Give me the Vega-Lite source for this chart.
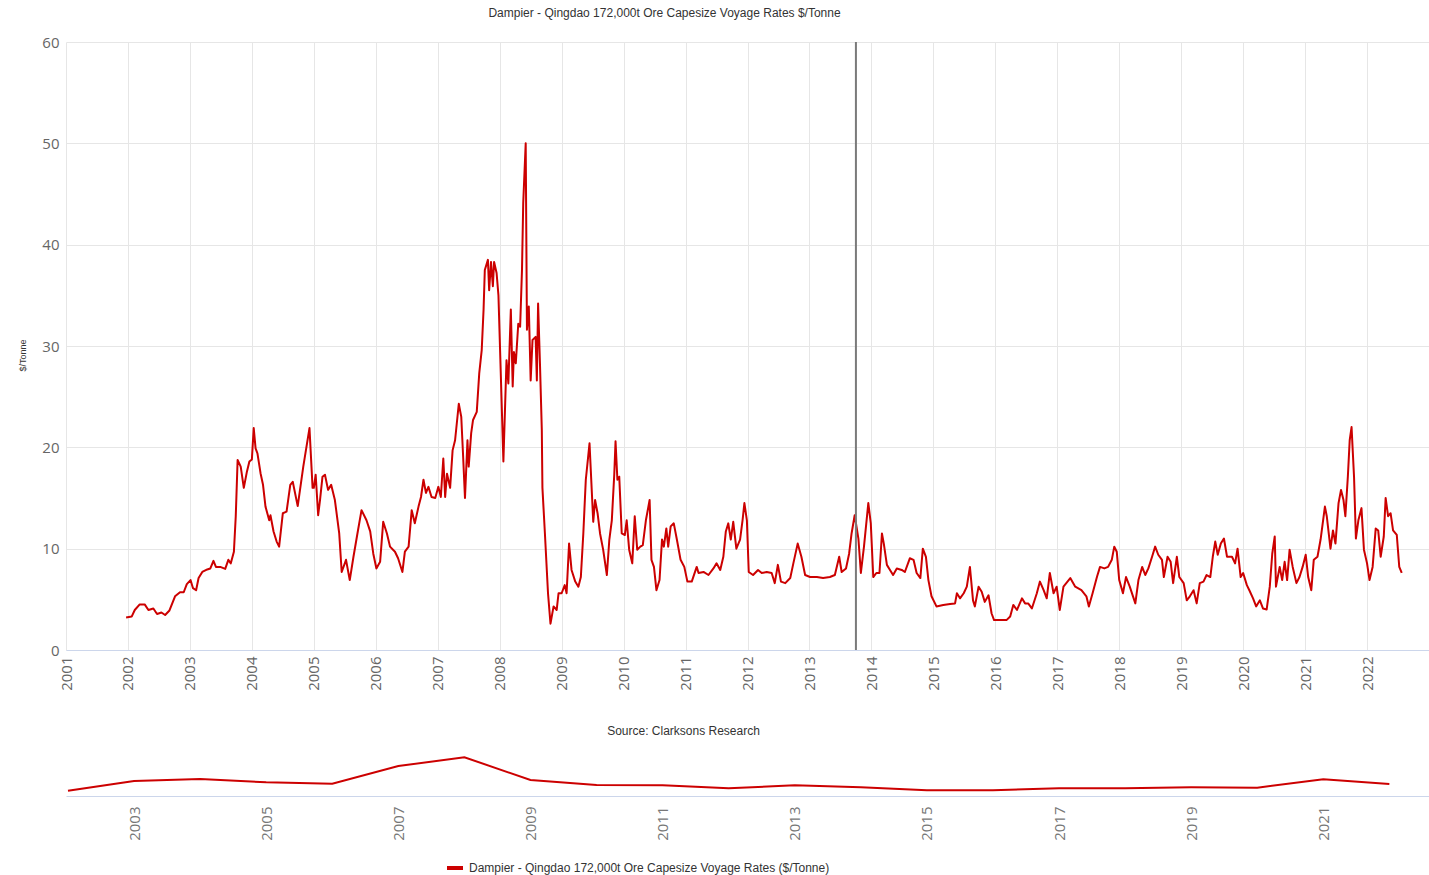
{
"$schema": "https://vega.github.io/schema/vega-lite/v6.json",
"background": "white",
"padding": {"left": 18, "top": 7, "right": 0, "bottom": 0},
"bounds": "flush",
"spacing": 102,
"config": {"view": {"stroke": null}, "font": "Liberation Sans"},
"datasets": {
"rates": [
{"t":2001.97,"v":3.2},{"t":2002.06,"v":3.3},{"t":2002.11,"v":3.95},{"t":2002.19,"v":4.5},{"t":2002.27,"v":4.5},{"t":2002.33,"v":3.95},{"t":2002.41,"v":4.1},{"t":2002.47,"v":3.55},{"t":2002.54,"v":3.7},{"t":2002.6,"v":3.45},{"t":2002.67,"v":3.9},{"t":2002.76,"v":5.3},{"t":2002.84,"v":5.7},{"t":2002.9,"v":5.7},{"t":2002.95,"v":6.5},
{"t":2003.01,"v":6.9},{"t":2003.05,"v":6.1},{"t":2003.1,"v":5.9},{"t":2003.14,"v":7.1},{"t":2003.2,"v":7.7},{"t":2003.28,"v":7.95},{"t":2003.33,"v":8.05},{"t":2003.38,"v":8.8},{"t":2003.42,"v":8.2},{"t":2003.49,"v":8.2},{"t":2003.57,"v":8.0},{"t":2003.62,"v":8.9},{"t":2003.66,"v":8.55},{"t":2003.71,"v":9.7},{"t":2003.74,"v":13.2},{"t":2003.77,"v":18.75},{"t":2003.82,"v":18.1},{"t":2003.87,"v":16.0},{"t":2003.92,"v":17.6},{"t":2003.96,"v":18.6},
{"t":2004.0,"v":18.8},{"t":2004.03,"v":21.9},{"t":2004.06,"v":19.9},{"t":2004.09,"v":19.4},{"t":2004.14,"v":17.45},{"t":2004.18,"v":16.3},{"t":2004.22,"v":14.15},{"t":2004.28,"v":12.8},{"t":2004.3,"v":13.3},{"t":2004.35,"v":11.7},{"t":2004.4,"v":10.7},{"t":2004.44,"v":10.2},{"t":2004.5,"v":13.5},{"t":2004.56,"v":13.65},{"t":2004.62,"v":16.3},{"t":2004.66,"v":16.6},{"t":2004.74,"v":14.2},{"t":2004.83,"v":18.1},{"t":2004.93,"v":21.9},{"t":2004.98,"v":16.0},
{"t":2005.0,"v":16.0},{"t":2005.03,"v":17.3},{"t":2005.07,"v":13.3},{"t":2005.1,"v":14.8},{"t":2005.14,"v":17.1},{"t":2005.18,"v":17.3},{"t":2005.23,"v":15.8},{"t":2005.28,"v":16.3},{"t":2005.34,"v":14.8},{"t":2005.41,"v":11.5},{"t":2005.45,"v":7.7},{"t":2005.52,"v":8.9},{"t":2005.58,"v":6.9},{"t":2005.64,"v":9.2},{"t":2005.7,"v":11.35},{"t":2005.77,"v":13.8},{"t":2005.85,"v":12.8},{"t":2005.91,"v":11.7},{"t":2005.96,"v":9.5},
{"t":2006.01,"v":8.05},{"t":2006.07,"v":8.7},{"t":2006.12,"v":12.65},{"t":2006.18,"v":11.5},{"t":2006.23,"v":10.2},{"t":2006.31,"v":9.7},{"t":2006.36,"v":9.05},{"t":2006.43,"v":7.7},{"t":2006.47,"v":9.7},{"t":2006.53,"v":10.2},{"t":2006.58,"v":13.8},{"t":2006.63,"v":12.5},{"t":2006.69,"v":14.15},{"t":2006.73,"v":15.1},{"t":2006.77,"v":16.8},{"t":2006.81,"v":15.5},{"t":2006.85,"v":16.1},{"t":2006.9,"v":15.1},{"t":2006.96,"v":15.0},
{"t":2007.01,"v":16.1},{"t":2007.05,"v":15.1},{"t":2007.09,"v":18.9},{"t":2007.12,"v":15.1},{"t":2007.15,"v":17.4},{"t":2007.2,"v":16.0},{"t":2007.24,"v":19.7},{"t":2007.28,"v":20.7},{"t":2007.31,"v":22.5},{"t":2007.34,"v":24.3},{"t":2007.38,"v":23.0},{"t":2007.41,"v":19.1},{"t":2007.44,"v":15.0},{"t":2007.48,"v":20.7},{"t":2007.5,"v":18.1},{"t":2007.54,"v":21.4},{"t":2007.57,"v":22.7},{"t":2007.63,"v":23.5},{"t":2007.67,"v":27.3},{"t":2007.71,"v":29.6},{"t":2007.74,"v":33.6},{"t":2007.76,"v":37.5},{"t":2007.81,"v":38.5},{"t":2007.83,"v":35.5},{"t":2007.86,"v":38.3},{"t":2007.89,"v":35.9},{"t":2007.91,"v":38.3},{"t":2007.95,"v":37.2},{"t":2007.98,"v":35.0},
{"t":2008.06,"v":18.6},{"t":2008.11,"v":28.6},{"t":2008.14,"v":26.3},{"t":2008.18,"v":33.6},{"t":2008.21,"v":26.0},{"t":2008.23,"v":29.4},{"t":2008.26,"v":28.3},{"t":2008.3,"v":32.2},{"t":2008.33,"v":31.9},{"t":2008.36,"v":37.5},{"t":2008.38,"v":44.1},{"t":2008.42,"v":50.0},{"t":2008.44,"v":31.6},{"t":2008.47,"v":33.9},{"t":2008.5,"v":26.6},{"t":2008.53,"v":30.6},{"t":2008.58,"v":30.9},{"t":2008.6,"v":26.6},{"t":2008.62,"v":34.2},{"t":2008.65,"v":28.3},{"t":2008.68,"v":21.7},{"t":2008.69,"v":16.0},{"t":2008.73,"v":11.5},{"t":2008.78,"v":5.6},{"t":2008.82,"v":2.6},{"t":2008.87,"v":4.3},{"t":2008.92,"v":3.95},{"t":2008.95,"v":5.6},
{"t":2009.0,"v":5.6},{"t":2009.05,"v":6.4},{"t":2009.08,"v":5.6},{"t":2009.12,"v":10.5},{"t":2009.16,"v":7.9},{"t":2009.22,"v":6.75},{"t":2009.27,"v":6.25},{"t":2009.31,"v":7.2},{"t":2009.35,"v":11.5},{"t":2009.39,"v":16.8},{"t":2009.45,"v":20.4},{"t":2009.51,"v":12.65},{"t":2009.54,"v":14.8},{"t":2009.58,"v":13.5},{"t":2009.62,"v":11.5},{"t":2009.67,"v":9.9},{"t":2009.73,"v":7.4},{"t":2009.77,"v":10.9},{"t":2009.81,"v":12.8},{"t":2009.85,"v":17.4},{"t":2009.87,"v":20.6},{"t":2009.9,"v":16.8},{"t":2009.93,"v":17.1},{"t":2009.97,"v":11.5},
{"t":2010.02,"v":11.35},{"t":2010.05,"v":12.8},{"t":2010.09,"v":9.9},{"t":2010.14,"v":8.55},{"t":2010.18,"v":13.2},{"t":2010.22,"v":9.9},{"t":2010.27,"v":10.2},{"t":2010.31,"v":10.35},{"t":2010.36,"v":12.8},{"t":2010.42,"v":14.8},{"t":2010.45,"v":8.9},{"t":2010.49,"v":8.2},{"t":2010.53,"v":5.9},{"t":2010.58,"v":6.9},{"t":2010.62,"v":10.9},{"t":2010.65,"v":10.2},{"t":2010.69,"v":12.0},{"t":2010.72,"v":10.2},{"t":2010.76,"v":12.2},{"t":2010.81,"v":12.5},{"t":2010.86,"v":10.9},{"t":2010.92,"v":8.9},{"t":2010.98,"v":8.2},
{"t":2011.03,"v":6.75},{"t":2011.1,"v":6.75},{"t":2011.18,"v":8.2},{"t":2011.21,"v":7.6},{"t":2011.29,"v":7.7},{"t":2011.37,"v":7.4},{"t":2011.45,"v":8.05},{"t":2011.5,"v":8.55},{"t":2011.56,"v":7.9},{"t":2011.61,"v":9.2},{"t":2011.65,"v":11.7},{"t":2011.69,"v":12.5},{"t":2011.73,"v":10.9},{"t":2011.77,"v":12.65},{"t":2011.82,"v":10.0},{"t":2011.88,"v":10.9},{"t":2011.92,"v":12.8},{"t":2011.95,"v":14.5},{"t":2011.99,"v":12.8},
{"t":2012.02,"v":7.7},{"t":2012.09,"v":7.4},{"t":2012.17,"v":7.9},{"t":2012.23,"v":7.6},{"t":2012.31,"v":7.7},{"t":2012.39,"v":7.6},{"t":2012.44,"v":6.6},{"t":2012.49,"v":8.4},{"t":2012.54,"v":6.75},{"t":2012.61,"v":6.6},{"t":2012.69,"v":7.1},{"t":2012.74,"v":8.55},{"t":2012.81,"v":10.5},{"t":2012.87,"v":9.2},{"t":2012.93,"v":7.4},
{"t":2013.01,"v":7.2},{"t":2013.12,"v":7.2},{"t":2013.22,"v":7.1},{"t":2013.33,"v":7.2},{"t":2013.41,"v":7.4},{"t":2013.48,"v":9.2},{"t":2013.52,"v":7.7},{"t":2013.59,"v":8.05},{"t":2013.64,"v":9.5},{"t":2013.68,"v":11.5},{"t":2013.73,"v":13.3},{"t":2013.79,"v":11.0},{"t":2013.83,"v":7.6},{"t":2013.88,"v":10.2},{"t":2013.95,"v":14.5},{"t":2013.99,"v":12.5},
{"t":2014.03,"v":7.2},{"t":2014.08,"v":7.6},{"t":2014.13,"v":7.6},{"t":2014.17,"v":11.5},{"t":2014.2,"v":10.5},{"t":2014.25,"v":8.4},{"t":2014.3,"v":7.9},{"t":2014.35,"v":7.4},{"t":2014.41,"v":8.05},{"t":2014.49,"v":7.9},{"t":2014.54,"v":7.7},{"t":2014.62,"v":9.05},{"t":2014.68,"v":8.9},{"t":2014.73,"v":7.6},{"t":2014.79,"v":7.1},{"t":2014.83,"v":10.0},{"t":2014.88,"v":9.2},{"t":2014.92,"v":6.9},{"t":2014.97,"v":5.3},
{"t":2015.05,"v":4.3},{"t":2015.16,"v":4.45},{"t":2015.27,"v":4.55},{"t":2015.35,"v":4.6},{"t":2015.38,"v":5.6},{"t":2015.43,"v":5.1},{"t":2015.49,"v":5.6},{"t":2015.54,"v":6.25},{"t":2015.59,"v":8.2},{"t":2015.64,"v":4.9},{"t":2015.67,"v":4.3},{"t":2015.73,"v":6.25},{"t":2015.78,"v":5.75},{"t":2015.83,"v":4.75},{"t":2015.89,"v":5.4},{"t":2015.94,"v":3.6},{"t":2015.98,"v":2.95},
{"t":2016.08,"v":2.95},{"t":2016.18,"v":2.95},{"t":2016.24,"v":3.3},{"t":2016.29,"v":4.45},{"t":2016.35,"v":3.95},{"t":2016.43,"v":5.1},{"t":2016.48,"v":4.6},{"t":2016.53,"v":4.6},{"t":2016.59,"v":4.1},{"t":2016.67,"v":5.6},{"t":2016.72,"v":6.75},{"t":2016.78,"v":5.9},{"t":2016.83,"v":5.1},{"t":2016.88,"v":7.6},{"t":2016.94,"v":5.6},{"t":2016.99,"v":6.25},
{"t":2017.04,"v":3.95},{"t":2017.1,"v":6.25},{"t":2017.21,"v":7.1},{"t":2017.29,"v":6.25},{"t":2017.39,"v":5.9},{"t":2017.47,"v":5.3},{"t":2017.51,"v":4.3},{"t":2017.57,"v":5.6},{"t":2017.64,"v":7.2},{"t":2017.69,"v":8.2},{"t":2017.76,"v":8.05},{"t":2017.82,"v":8.2},{"t":2017.88,"v":8.9},{"t":2017.92,"v":10.2},{"t":2017.96,"v":9.7},
{"t":2018.0,"v":6.9},{"t":2018.06,"v":5.6},{"t":2018.11,"v":7.2},{"t":2018.17,"v":6.25},{"t":2018.26,"v":4.6},{"t":2018.31,"v":6.9},{"t":2018.37,"v":8.2},{"t":2018.42,"v":7.4},{"t":2018.47,"v":8.05},{"t":2018.53,"v":9.2},{"t":2018.58,"v":10.2},{"t":2018.63,"v":9.4},{"t":2018.69,"v":8.9},{"t":2018.72,"v":7.2},{"t":2018.78,"v":9.2},{"t":2018.83,"v":8.7},{"t":2018.87,"v":6.6},{"t":2018.93,"v":9.2},{"t":2018.97,"v":7.2},
{"t":2019.04,"v":6.6},{"t":2019.09,"v":4.9},{"t":2019.14,"v":5.3},{"t":2019.2,"v":5.9},{"t":2019.25,"v":4.6},{"t":2019.3,"v":6.6},{"t":2019.36,"v":6.75},{"t":2019.41,"v":7.4},{"t":2019.47,"v":7.2},{"t":2019.51,"v":9.2},{"t":2019.55,"v":10.7},{"t":2019.59,"v":9.4},{"t":2019.64,"v":10.5},{"t":2019.69,"v":11.0},{"t":2019.74,"v":9.2},{"t":2019.82,"v":9.2},{"t":2019.87,"v":8.55},{"t":2019.91,"v":10.0},{"t":2019.96,"v":7.2},
{"t":2020.0,"v":7.6},{"t":2020.06,"v":6.4},{"t":2020.1,"v":5.9},{"t":2020.16,"v":5.1},{"t":2020.21,"v":4.3},{"t":2020.27,"v":4.9},{"t":2020.32,"v":4.1},{"t":2020.38,"v":4.0},{"t":2020.43,"v":6.25},{"t":2020.47,"v":9.5},{"t":2020.51,"v":11.2},{"t":2020.53,"v":6.25},{"t":2020.59,"v":8.2},{"t":2020.63,"v":6.9},{"t":2020.67,"v":8.7},{"t":2020.71,"v":6.9},{"t":2020.75,"v":9.9},{"t":2020.8,"v":8.2},{"t":2020.86,"v":6.6},{"t":2020.91,"v":7.2},{"t":2020.96,"v":8.2},
{"t":2021.01,"v":9.4},{"t":2021.05,"v":7.2},{"t":2021.1,"v":5.9},{"t":2021.14,"v":8.9},{"t":2021.2,"v":9.2},{"t":2021.25,"v":10.9},{"t":2021.32,"v":14.15},{"t":2021.35,"v":13.2},{"t":2021.41,"v":10.0},{"t":2021.45,"v":11.8},{"t":2021.49,"v":10.5},{"t":2021.54,"v":14.5},{"t":2021.58,"v":15.8},{"t":2021.62,"v":14.8},{"t":2021.65,"v":13.2},{"t":2021.69,"v":17.1},{"t":2021.72,"v":20.7},{"t":2021.75,"v":22.0},{"t":2021.79,"v":17.1},{"t":2021.82,"v":11.0},{"t":2021.86,"v":12.8},{"t":2021.91,"v":14.0},{"t":2021.95,"v":9.9},
{"t":2022.0,"v":8.55},{"t":2022.04,"v":6.9},{"t":2022.09,"v":8.2},{"t":2022.14,"v":12.0},{"t":2022.18,"v":11.8},{"t":2022.22,"v":9.2},{"t":2022.27,"v":11.2},{"t":2022.3,"v":15.0},{"t":2022.34,"v":13.2},{"t":2022.38,"v":13.5},{"t":2022.42,"v":11.8},{"t":2022.48,"v":11.35},{"t":2022.52,"v":8.2},{"t":2022.56,"v":7.6}
],
"nav": [
{"t":2002,"v":4.3},{"t":2003,"v":12.3},{"t":2004,"v":13.9},{"t":2005,"v":11.2},{"t":2006,"v":10.1},{"t":2007,"v":24.5},{"t":2008,"v":31.7},{"t":2009,"v":13.1},{"t":2010,"v":9.0},{"t":2011,"v":8.8},{"t":2012,"v":6.3},{"t":2013,"v":8.8},{"t":2014,"v":7.1},{"t":2015,"v":4.7},{"t":2016,"v":4.7},{"t":2017,"v":6.3},{"t":2018,"v":6.3},{"t":2019,"v":7.1},{"t":2020,"v":6.8},{"t":2021,"v":13.7},{"t":2022,"v":9.8}
],
"marker": [{"t": 2013.75}]
},
"vconcat": [
{
"width": 1363,
"height": 608,
"title": {"text": "Dampier - Qingdao 172,000t Ore Capesize Voyage Rates $/Tonne", "fontSize": 12, "fontWeight": "normal", "color": "#333333", "font": "Liberation Sans", "anchor": "middle", "dx": -83, "offset": 15},
"layer": [
{
"data": {"name": "rates"},
"mark": {"type": "line", "color": "#cc0000", "strokeWidth": 2, "strokeJoin": "round"},
"encoding": {
"x": {"field": "t", "type": "quantitative",
"scale": {"domain": [2001, 2023], "nice": false, "zero": false},
"axis": {"values": [2001,2002,2003,2004,2005,2006,2007,2008,2009,2010,2011,2012,2013,2014,2015,2016,2017,2018,2019,2020,2021,2022],
"format": "d", "labelAngle": -90, "labelAlign": "right", "labelBaseline": "middle", "labelFontSize": 15, "labelColor": "#666666", "labelFont": "Open Sans", "labelPadding": 6, "ticks": false, "grid": true, "gridColor": "#e6e6e6", "domainColor": "#ccd6eb", "labelOverlap": false,
"title": "Source: Clarksons Research", "titleFontSize": 12, "titleFontWeight": "normal", "titleColor": "#333333", "titleFont": "Liberation Sans", "titlePadding": 35, "titleX": 617}},
"y": {"field": "v", "type": "quantitative",
"scale": {"domain": [0, 60], "nice": false},
"axis": {"values": [0,10,20,30,40,50,60], "title": "$/Tonne", "titleFontSize": 9, "titleFontWeight": "normal", "titleColor": "#333333", "titleFont": "Liberation Sans", "titlePadding": 14, "titleY": 313, "labelFontSize": 15, "labelColor": "#666666", "labelFont": "Open Sans", "labelPadding": 7, "ticks": false, "domain": false, "gridColor": "#e6e6e6"}}
}
},
{
"data": {"name": "marker"},
"mark": {"type": "rule", "color": "#7a7a7a", "strokeWidth": 2},
"encoding": {"x": {"field": "t", "type": "quantitative"}}
}
]
},
{
"width": 1363,
"height": 44,
"data": {"name": "nav"},
"mark": {"type": "line", "strokeWidth": 2},
"encoding": {
"x": {"field": "t", "type": "quantitative",
"scale": {"domain": [2001.97, 2022.6], "nice": false, "zero": false},
"axis": {"values": [2003,2005,2007,2009,2011,2013,2015,2017,2019,2021], "format": "d", "labelAngle": -90, "labelAlign": "right", "labelBaseline": "middle", "labelFontSize": 15, "labelColor": "#777777", "labelFont": "Open Sans", "labelPadding": 10, "ticks": false, "grid": false, "domainColor": "#ccd6eb", "title": null}},
"y": {"field": "v", "type": "quantitative", "scale": {"domain": [0, 36], "nice": false}, "axis": null},
"color": {"datum": "Dampier - Qingdao 172,000t Ore Capesize Voyage Rates ($/Tonne)", "type": "nominal",
"scale": {"range": ["#cc0000"]},
"legend": {"orient": "none", "legendX": 379, "legendY": 816, "direction": "horizontal", "title": null, "symbolType": "stroke", "symbolStrokeWidth": 4, "symbolSize": 256, "labelFontSize": 12, "labelColor": "#333333", "labelFont": "Liberation Sans", "labelLimit": 600}}
}
}
]
}
